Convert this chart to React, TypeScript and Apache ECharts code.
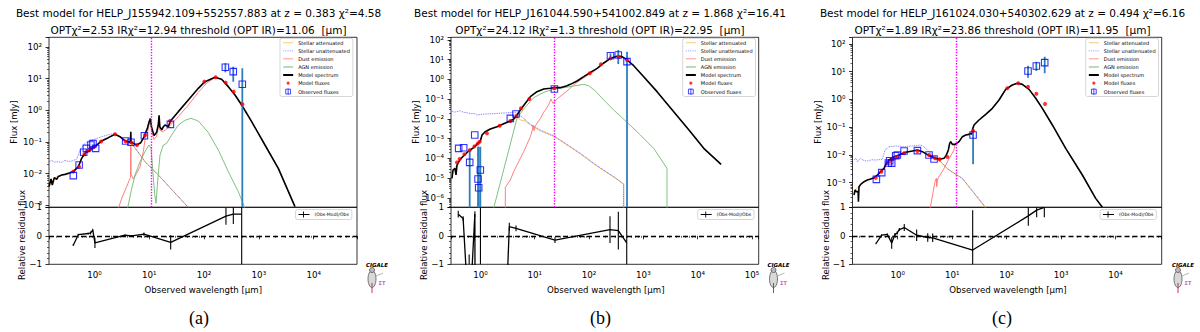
import React, { useEffect, useRef } from 'react';
import * as echarts from 'echarts';

type P = [number, number][];
type E = [number, number, number][];

// ---------------- Panel (a) ----------------
const A_TITLE = 'Best model for HELP_J155942.109+552557.883 at z = 0.383 χ²=4.58';
const A_SUB = 'OPTχ²=2.53 IRχ²=12.94 threshold (OPT IR)=11.06  [μm]';
const A_THRESHOLD = 11.06;
const A_XRANGE = [0.148, 61800];
const A_YRANGE = [8.67e-4, 202];
const A_MODEL: P = [[0.148,0.0039],[0.161,0.0068],[0.170,0.0044],[0.185,0.0075],[0.204,0.0066],[0.219,0.0082],[0.252,0.0091],[0.290,0.0095],[0.350,0.0105],[0.411,0.0116],[0.508,0.0166],[0.584,0.0305],[0.672,0.0439],[0.829,0.0559],[1.02,0.0712],[1.35,0.108],[1.79,0.137],[2.37,0.175],[2.92,0.147],[3.61,0.108],[4.55,0.098],[4.60,0.21],[4.66,0.098],[5.89,0.0804],[7.0,0.095],[8.15,0.15],[8.6,0.20],[9.3,0.28],[10.0,0.45],[10.5,0.55],[11.0,0.30],[12.2,0.16],[13.0,0.18],[13.7,0.21],[14.6,0.35],[15.1,0.70],[15.6,0.30],[16.9,0.24],[18.0,0.30],[19.4,0.344],[22.2,0.305],[24.6,0.47],[33.9,0.908],[51.6,2.12],[78.5,4.95],[104,8.04],[158,11.0],[209,9.52],[277,5.59],[367,3.05],[486,1.47],[739,0.439],[1292,0.0804],[2264,0.0147],[4560,0.00091]];
const A_ATT: P = [[0.148,0.0039],[0.185,0.0075],[0.219,0.0082],[0.29,0.0095],[0.411,0.0116],[0.508,0.0166],[0.584,0.0305],[0.672,0.0439],[0.829,0.0559],[1.02,0.0712],[1.35,0.108],[1.79,0.137],[2.37,0.175],[2.92,0.147],[3.61,0.108],[4.77,0.0908],[8.36,0.0239],[14.6,0.0091],[51.6,0.00086]];
const A_UNATT: P = [[0.148,0.024],[0.165,0.0262],[0.185,0.0232],[0.219,0.0239],[0.25,0.0225],[0.29,0.0264],[0.34,0.024],[0.384,0.0251],[0.43,0.027],[0.473,0.029],[0.545,0.0559],[0.627,0.0804],[0.773,0.108],[1.02,0.124],[1.35,0.147],[1.92,0.175],[2.44,0.183],[2.92,0.147],[3.61,0.108],[4.77,0.0908],[8.36,0.0239],[14.6,0.0091],[51.6,0.00086]];
const A_DUST: P = [[2.73,0.0008],[3.14,0.00166],[3.87,0.00388],[4.45,0.0071],[4.55,0.0075],[4.60,0.08],[4.66,0.0095],[5.12,0.0068],[5.89,0.0102],[6.78,0.0166],[7.79,0.0495],[8.36,0.12],[8.9,0.17],[9.4,0.22],[10.1,0.40],[10.5,0.47],[11.0,0.22],[12.2,0.12],[13.6,0.15],[14.6,0.28],[15.1,0.60],[15.6,0.24],[17.3,0.21],[19.9,0.24],[23.9,0.328],[33.9,0.631],[51.6,1.47],[78.5,3.70],[111,7.12],[158,10.8],[209,9.52],[277,5.59],[367,3.05],[486,1.47],[739,0.439],[1292,0.0804],[2264,0.0147],[4560,0.00091]];
const A_AGN: P = [[4.03,0.0008],[4.64,0.0027],[5.49,0.0091],[6.78,0.0239],[8.36,0.0495],[9.89,0.0804],[10.8,0.063],[11.5,0.0147],[12.6,0.00212],[13.3,0.00116],[14.2,0.0056],[15.7,0.0388],[18.1,0.0804],[20.8,0.0908],[25.6,0.166],[33.9,0.344],[44.8,0.483],[57.6,0.559],[78.5,0.460],[119,0.202],[182,0.0559],[277,0.0116],[422,0.0027],[558,0.0008]];
const A_MOD_L = [0.411,0.522,0.653,0.731,0.817,0.889,0.995,1.32,2.37,3.71,4.77,5.97,8.36,23.9,101,163,248,347,499];
const A_MOD_F = [0.0116,0.0166,0.0408,0.052,0.0559,0.063,0.0712,0.103,0.175,0.103,0.0953,0.0804,0.166,0.46,8.04,11.0,7.48,3.89,1.55];
const A_OBS_L = [0.411,0.525,0.636,0.711,0.862,0.941,1.05,3.71,4.64,8.15,24.3,245,341,499];
const A_OBS_F = [0.00865,0.0188,0.0472,0.063,0.0804,0.0886,0.063,0.108,0.0976,0.158,0.361,22.8,16.6,6.62];
const A_OBS_ERR: E = [[245,15.8,30.5],[341,8.0,23.9],[499,1e-9,21.2]];
const A_RES_L = [0.41,0.507,0.77,0.85,0.93,1.02,3.6,4.77,8.0,24.6,251,342,486];
const A_RES_V = [-0.33,0.04,0.08,0.1,0.2,-0.25,0.02,0.0,0.06,-0.23,0.69,0.76,0.76];
const A_RES_E = [0.03,0.03,0.03,0.05,0.05,0.18,0.03,0.03,0.06,0.25,0.3,0.35,5];

// ---------------- Panel (b) ----------------
const B_TITLE = 'Best model for HELP_J161044.590+541002.849 at z = 1.868 χ²=16.41';
const B_SUB = 'OPTχ²=24.12 IRχ²=1.3 threshold (OPT IR)=22.95  [μm]';
const B_THRESHOLD = 22.95;
const B_XRANGE = [0.287, 133000];
const B_YRANGE = [3.37e-7, 133.6];
const B_MODEL: P = [[0.299,9.8e-6],[0.313,2.59e-5],[0.340,3.14e-5],[0.355,1.45e-5],[0.370,4.6e-5],[0.415,8.3e-5],[0.491,1.37e-4],[0.607,2.37e-4],[0.750,3.49e-4],[0.889,5.6e-4],[0.995,7.6e-4],[1.07,1.53e-3],[1.23,2.25e-3],[1.52,3.07e-3],[2.02,4.03e-3],[2.68,5.7e-3],[3.55,7.8e-3],[4.10,9.8e-3],[4.71,0.0157],[5.43,0.0281],[6.71,0.061],[8.30,0.133],[11.0,0.238],[14.6,0.324],[19.4,0.351],[23.0,0.379],[29.6,0.379],[39.3,0.478],[45.3,0.558],[60.1,0.824],[79.8,1.36],[106,2.26],[141,3.60],[187,6.70],[248,11.5],[328,14.6],[405,14.0],[500,9.5],[664,4.91],[1014,1.36],[1786,0.238],[3622,0.0231],[7345,2.25e-3],[12940,3.23e-4],[26980,5.0e-5]];
const B_ATT: P = [[0.299,9.8e-6],[0.313,2.59e-5],[0.370,4.6e-5],[0.415,8.3e-5],[0.491,1.37e-4],[0.607,2.37e-4],[0.750,3.49e-4],[0.889,5.6e-4],[0.995,7.6e-4],[1.07,1.53e-3],[1.23,2.25e-3],[1.52,3.07e-3],[2.02,4.03e-3],[2.68,5.7e-3],[3.55,7.8e-3],[4.10,9.8e-3],[4.71,0.0115],[5.43,8.8e-3],[6.71,7.8e-3],[8.30,4.9e-3],[12.7,2.43e-3],[22.3,1.31e-3],[39.3,4.76e-4],[69.2,1.67e-4],[141,3.97e-5],[284,1.15e-5],[434,4.9e-6],[435,1e-8]];
const B_UNATT: P = [[0.299,0.025],[0.33,0.022],[0.370,0.0231],[0.42,0.026],[0.491,0.0214],[0.56,0.021],[0.652,0.0183],[0.75,0.019],[0.864,0.0157],[1.15,0.0176],[1.75,0.0183],[2.68,0.0198],[4.10,0.0214],[4.85,0.0183],[6.25,0.0106],[8.30,5.3e-3],[12.7,2.73e-3],[22.3,1.41e-3],[39.3,5.15e-4],[69.2,1.80e-4],[141,4.3e-5],[284,1.19e-5],[434,5.07e-6],[435,1e-8]];
const B_DUST: P = [[2.87,1e-8],[2.87,3.44e-6],[3.55,8.1e-6],[4.09,2.13e-5],[6.25,2.19e-4],[8.30,1.26e-3],[9.03,2.73e-3],[9.29,4.9e-3],[9.70,2.53e-3],[10.3,4.53e-3],[12.7,0.0106],[14.6,0.0214],[18.0,0.0503],[19.9,0.101],[21.7,0.061],[25.7,0.101],[31.8,0.161],[39.3,0.257],[52.1,0.517],[69.2,0.925],[91.6,1.53],[122,2.44],[187,6.70],[248,11.5],[328,14.6],[405,14.0],[500,9.5],[664,4.91],[1014,1.36],[1786,0.238],[3622,0.0231],[7345,2.25e-3],[12940,3.23e-4],[26980,5.0e-5]];
const B_AGN: P = [[1.75,3.0e-7],[4.71,0.0106],[6.25,0.0316],[9.55,0.118],[14.6,0.220],[22.3,0.312],[34.0,0.379],[52.1,0.460],[79.8,0.558],[98.4,0.478],[131,0.257],[187,0.090],[284,0.0281],[500,6.7e-3],[881,1.53e-3],[1549,3.23e-4],[2727,3.14e-5],[2728,1e-8]];
const B_MOD_L = [0.370,0.415,0.506,0.634,0.773,0.889,0.968,1.32,2.26,3.55,4.59,5.58,7.95,23.0,103,166,248,351,500];
const B_MOD_F = [6.3e-5,9.3e-5,1.61e-4,2.56e-4,4.07e-4,5.6e-4,7.0e-4,1.85e-3,4.53e-3,7.8e-3,0.0140,0.0341,0.101,0.351,2.01,5.74,11.5,14.0,9.5];
const B_OBS_L = [0.397,0.491,0.634,0.785,0.903,0.929,0.995,3.55,4.52,23.0,248,345,500];
const B_OBS_F = [3.23e-4,3.49e-4,6.3e-5,1.53e-3,9.1e-6,3.3e-6,2.59e-5,0.0106,0.0176,0.324,15.7,17.0,7.83];
const B_OBS_ERR: E = [[0.634,1e-9,2.66e-4],[0.903,1e-9,3.9e-4],[0.929,1e-9,3.9e-4],[0.995,1e-9,3.9e-4],[248,12,20],[345,5.97,30.5],[500,1e-9,25]];
const B_RES_L = [0.39,0.48,0.62,0.79,0.90,0.93,1.0,3.4,4.52,23.6,243,346,494];
const B_RES_V = [0.76,0.61,-3.06,0.76,-60,-200,-26,0.32,0.26,-0.15,0.22,0.18,-0.25];
const B_RES_E = [0.12,0.08,2.4,0.1,50,150,30,0.14,0.1,0.1,0.47,0.66,5];

// ---------------- Panel (c) ----------------
const C_TITLE = 'Best model for HELP_J161024.030+540302.629 at z = 0.494 χ²=6.16';
const C_SUB = 'OPTχ²=1.89 IRχ²=23.86 threshold (OPT IR)=11.95  [μm]';
const C_THRESHOLD = 11.95;
const C_XRANGE = [0.148, 70300];
const C_YRANGE = [1.28e-4, 172.6];
const C_MODEL: P = [[0.158,3.55e-4],[0.165,5.38e-4],[0.174,4.69e-4],[0.182,4.69e-4],[0.188,4.69e-4],[0.190,2.04e-4],[0.195,7.1e-4],[0.209,8.6e-4],[0.241,1.07e-3],[0.277,1.23e-3],[0.319,1.34e-3],[0.368,1.50e-3],[0.423,1.87e-3],[0.488,2.47e-3],[0.561,3.25e-3],[0.619,4.92e-3],[0.693,6.5e-3],[0.857,8.57e-3],[1.06,9.84e-3],[1.40,0.0123],[1.86,0.0137],[2.30,0.0149],[2.84,0.0130],[3.76,9.3e-3],[4.99,7.46e-3],[6.15,7.06e-3],[7.10,7.46e-3],[7.83,9.84e-3],[8.51,0.0149],[9.0,0.0259],[9.40,0.0298],[10.1,0.0238],[11.3,0.0238],[13.4,0.0298],[15.4,0.0451],[17.7,0.0518],[20.4,0.0547],[21.9,0.0594],[23.3,0.055],[23.8,0.085],[25.2,0.119],[31.1,0.180],[41.3,0.288],[54.7,0.473],[72.5,0.946],[96.1,2.29],[127,3.29],[157,3.78],[194,3.47],[258,2.29],[342,1.09],[453,0.473],[691,0.119],[1214,0.0171],[2455,1.87e-3],[4315,2.69e-4],[5723,1.28e-4]];
const C_ATT: P = [[0.158,3.55e-4],[0.165,5.38e-4],[0.195,7.1e-4],[0.209,8.6e-4],[0.241,1.07e-3],[0.277,1.23e-3],[0.319,1.34e-3],[0.368,1.50e-3],[0.423,1.87e-3],[0.488,2.47e-3],[0.561,3.25e-3],[0.619,4.92e-3],[0.693,6.5e-3],[0.857,8.57e-3],[1.06,9.84e-3],[1.40,0.0123],[1.86,0.0137],[2.30,0.0149],[2.84,0.0130],[3.76,9.3e-3],[4.99,7.2e-3],[6.15,5.4e-3],[8.51,2.9e-3],[15.4,1.38e-3],[41.3,1.2e-4]];
const C_UNATT: P = [[0.158,6.5e-3],[0.17,7.5e-3],[0.182,5.6e-3],[0.209,7.46e-3],[0.24,6.2e-3],[0.277,5.98e-3],[0.33,6.6e-3],[0.394,6.5e-3],[0.523,6.87e-3],[0.585,0.0149],[0.693,0.0196],[0.919,0.0208],[1.31,0.0196],[2.00,0.0213],[2.65,0.0226],[3.18,0.0181],[4.04,0.0113],[4.99,7.88e-3],[6.15,5.65e-3],[8.51,2.99e-3],[15.4,1.42e-3],[41.3,1.28e-4]];
const C_DUST: P = [[3.92,1.1e-4],[4.84,1.07e-3],[5.13,1.42e-3],[5.20,7.1e-4],[5.42,1.34e-3],[7.10,3.25e-3],[8.51,6.5e-3],[10.8,0.0149],[11.3,0.0238],[13.4,0.0298],[15.4,0.0451],[17.7,0.0518],[20.4,0.0547],[21.9,0.0594],[23.3,0.055],[23.8,0.085],[25.2,0.119],[31.1,0.180],[41.3,0.288],[54.7,0.473],[72.5,0.946],[96.1,2.29],[127,3.29],[157,3.78],[194,3.47],[258,2.29],[342,1.09],[453,0.473],[691,0.119],[1214,0.0171],[2455,1.87e-3],[4315,2.69e-4],[5723,1.28e-4]];
const C_AGN: P = [];
const C_MOD_L = [0.394,0.501,0.646,0.713,0.798,0.893,1.0,1.31,2.30,3.76,4.84,5.90,8.17,24.2,103,164,247,351,507];
const C_MOD_F = [1.50e-3,2.47e-3,5.2e-3,5.98e-3,7.06e-3,7.88e-3,8.57e-3,0.0113,0.0137,9.84e-3,7.46e-3,6.87e-3,8.33e-3,0.0742,2.49,3.78,2.86,1.60,0.679];
const C_OBS_L = [0.406,0.509,0.674,0.713,0.776,0.919,0.986,1.31,2.30,3.76,4.65,24.2,247,351,500];
const C_OBS_F = [1.30e-3,2.27e-3,5.06e-3,6.14e-3,5.0e-3,9.3e-3,9.84e-3,0.0137,0.0141,9.84e-3,7.06e-3,0.0518,10.5,15.9,21.0];
const C_OBS_ERR: E = [[24.2,4.53e-3,0.078],[247,6.04,16.4],[351,10.5,22.8],[500,8.66,34.5]];
const C_RES_L = [0.40,0.508,0.646,0.776,0.893,0.98,1.07,1.32,2.23,3.56,4.39,23.8,250,356,492];
const C_RES_V = [-0.27,0.02,0.05,-0.25,0.05,0.1,0.22,0.29,0.02,-0.06,-0.07,-0.5,0.7,0.9,1.0];
const C_RES_E = [0.03,0.03,0.03,0.2,0.05,0.05,0.05,0.12,0.2,0.15,0.15,1.4,0.35,0.25,0.35];

const RES_NAME = '(Obs-Mod)/Obs';
const CAPTIONS = ['(a)', '(b)', '(c)'];

const PANELS = [
  { title: A_TITLE, sub: A_SUB, th: A_THRESHOLD, xr: A_XRANGE, yr: A_YRANGE, model: A_MODEL, att: A_ATT, unatt: A_UNATT, dust: A_DUST, agn: A_AGN, ml: A_MOD_L, mf: A_MOD_F, ol: A_OBS_L, of: A_OBS_F, oe: A_OBS_ERR, rl: A_RES_L, rv: A_RES_V, re: A_RES_E },
  { title: B_TITLE, sub: B_SUB, th: B_THRESHOLD, xr: B_XRANGE, yr: B_YRANGE, model: B_MODEL, att: B_ATT, unatt: B_UNATT, dust: B_DUST, agn: B_AGN, ml: B_MOD_L, mf: B_MOD_F, ol: B_OBS_L, of: B_OBS_F, oe: B_OBS_ERR, rl: B_RES_L, rv: B_RES_V, re: B_RES_E },
  { title: C_TITLE, sub: C_SUB, th: C_THRESHOLD, xr: C_XRANGE, yr: C_YRANGE, model: C_MODEL, att: C_ATT, unatt: C_UNATT, dust: C_DUST, agn: C_AGN, ml: C_MOD_L, mf: C_MOD_F, ol: C_OBS_L, of: C_OBS_F, oe: C_OBS_ERR, rl: C_RES_L, rv: C_RES_V, re: C_RES_E },
];

// styles
const COL = { att: '#fbb040', unatt: '#3030ff', dust: '#ff7070', agn: '#70bb70', model: '#000000', mflux: '#ff0000', obs: '#0000ff', err: '#2f7fbf', th: '#ff00ff' };
const BOX = 'M0,0L0.01,0M10,6L9.99,6';
const ICON_LINE = 'path://' + BOX + 'M0,2.55H10V3.45H0Z';
const ICON_THICK = 'path://' + BOX + 'M0,2.1H10V3.9H0Z';
const ICON_DOT = 'path://' + BOX + 'M0,2.55h1v0.9h-1zM2.2,2.55h1v0.9h-1zM4.4,2.55h1v0.9h-1zM6.6,2.55h1v0.9h-1zM8.8,2.55h1v0.9h-1z';
const ICON_CIRCLE = 'path://' + BOX + 'M3.4,3a1.6,1.6 0 1,0 3.2,0a1.6,1.6 0 1,0 -3.2,0Z';
const ICON_SQUARE = 'path://' + BOX + 'M2.6,0.6H7.4V5.4H2.6ZM5,0V6';
const ICON_RES = 'path://M0,0L0.01,0M11,6L10.99,6M0,2.5H11V3.5H0ZM4.6,0h0.9v6h-0.9z';
const LEGEND_DATA = [
  { name: 'Stellar attenuated', icon: ICON_LINE, itemStyle: { color: COL.att, borderWidth: 0, opacity: 0.7 } },
  { name: 'Stellar unattenuated', icon: ICON_DOT, itemStyle: { color: COL.unatt, borderWidth: 0, opacity: 0.7 } },
  { name: 'Dust emission', icon: ICON_LINE, itemStyle: { color: COL.dust, borderWidth: 0 } },
  { name: 'AGN emission', icon: ICON_LINE, itemStyle: { color: COL.agn, borderWidth: 0 } },
  { name: 'Model spectrum', icon: ICON_THICK, itemStyle: { color: COL.model, borderWidth: 0 } },
  { name: 'Model fluxes', icon: ICON_CIRCLE, itemStyle: { color: COL.mflux, borderWidth: 0 } },
  { name: 'Observed fluxes', icon: ICON_SQUARE, itemStyle: { color: 'rgba(255,255,255,0)', borderColor: COL.obs, borderWidth: 0.9 } },
];

// layout (pixels)
const LAYOUT = [
  { left: 49, width: 308, titleX: 198.5, xlabX: 203.3, fluxX: 13.5, resX: 21.7, legL: 280, resLegL: 295.5, capX: 199, logoX: 377 },
  { left: 451, width: 307.7, titleX: 600, xlabX: 605.8, fluxX: 415.5, resX: 424, legL: 682.7, resLegL: 697.7, capX: 600.5, logoX: 778.5 },
  { left: 852.5, width: 309.2, titleX: 1002.5, xlabX: 1008, fluxX: 817.5, resX: 825.7, legL: 1085.7, resLegL: 1100, capX: 1002, logoX: 1183 },
];
const MAIN_TOP = 37.3, MAIN_H = 170, RES_TOP = 207.3, RES_H = 57;
const FONT = 'DejaVu Sans';

const SUP: Record<string, string> = { '-': '⁻', '0': '⁰', '1': '¹', '2': '²', '3': '³', '4': '⁴', '5': '⁵', '6': '⁶', '7': '⁷', '8': '⁸', '9': '⁹' };
function logLabel(v: number): string {
  const e = Math.log10(v);
  const r = Math.round(e);
  if (Math.abs(e - r) > 1e-6) return '';
  return '10' + String(r).split('').map((c) => SUP[c]).join('');
}

function errSeries(name: string, axis: number, data: number[][], color: string, width: number, z: number) {
  return {
    name, type: 'custom', xAxisIndex: axis, yAxisIndex: axis, data, clip: true, z, silent: true,
    encode: { x: 0, y: [1, 2] },
    renderItem: (_p: any, api: any) => {
      const a = api.coord([api.value(0), api.value(1)]);
      const b = api.coord([api.value(0), api.value(2)]);
      return { type: 'line', shape: { x1: a[0], y1: a[1], x2: b[0], y2: b[1] }, style: { stroke: color, lineWidth: width } };
    },
  };
}

function buildOption() {
  const grid: any[] = [], xAxis: any[] = [], yAxis: any[] = [], series: any[] = [], legend: any[] = [], graphic: any[] = [];
  const tick = { show: true, length: 3.5, lineStyle: { color: '#000', width: 0.8 } };
  const minor = (n: number) => ({ show: true, splitNumber: n, length: 2, lineStyle: { color: '#000', width: 0.6 } });
  const lbl = { fontSize: 8.7, fontFamily: FONT, color: '#000' };
  PANELS.forEach((p, i) => {
    const L = LAYOUT[i];
    const m = 2 * i, r = 2 * i + 1;
    grid.push({ left: L.left, top: MAIN_TOP, width: L.width, height: MAIN_H, show: true, borderColor: '#000', borderWidth: 0.8, backgroundColor: 'rgba(0,0,0,0)' });
    grid.push({ left: L.left, top: RES_TOP, width: L.width, height: RES_H, show: true, borderColor: '#000', borderWidth: 0.8, backgroundColor: 'rgba(0,0,0,0)' });
    xAxis.push({ type: 'log', gridIndex: m, min: p.xr[0], max: p.xr[1], axisLine: { show: false }, axisTick: { show: false }, axisLabel: { show: false }, splitLine: { show: false } });
    xAxis.push({ type: 'log', gridIndex: r, min: p.xr[0], max: p.xr[1], axisLine: { show: false }, axisTick: tick, minorTick: minor(9), splitLine: { show: false },
      axisLabel: { ...lbl, formatter: logLabel, margin: 6 } });
    yAxis.push({ type: 'log', gridIndex: m, min: p.yr[0], max: p.yr[1], axisLine: { show: false }, axisTick: tick, minorTick: minor(9), splitLine: { show: false },
      axisLabel: { ...lbl, formatter: logLabel, margin: 7 } });
    yAxis.push({ type: 'value', gridIndex: r, min: -1, max: 1, interval: 1, axisLine: { show: false }, axisTick: tick, minorTick: minor(5), splitLine: { show: false },
      axisLabel: { ...lbl, formatter: (v: number) => (v < 0 ? '−' + (-v) : String(v)), margin: 7 } });

    const base = { xAxisIndex: m, yAxisIndex: m, type: 'line', symbol: 'none', showSymbol: false, silent: true, clip: true };
    series.push({ ...base, name: 'Stellar attenuated', data: p.att, z: 2, lineStyle: { color: COL.att, width: 0.9, opacity: 0.85 }, itemStyle: { color: COL.att } });
    series.push({ ...base, name: 'Stellar unattenuated', data: p.unatt, z: 2, lineStyle: { color: COL.unatt, width: 0.9, type: 'dotted', opacity: 0.75 }, itemStyle: { color: COL.unatt } });
    series.push({ ...base, name: 'Dust emission', data: p.dust, z: 2, lineStyle: { color: COL.dust, width: 0.9 }, itemStyle: { color: COL.dust } });
    series.push({ ...base, name: 'AGN emission', data: p.agn, z: 2, lineStyle: { color: COL.agn, width: 0.9 }, itemStyle: { color: COL.agn } });
    series.push({ ...base, name: 'Model spectrum', data: p.model, z: 3, lineStyle: { color: COL.model, width: 1.6 }, itemStyle: { color: COL.model },
      markLine: { silent: true, symbol: ['none', 'none'], label: { show: false }, lineStyle: { color: COL.th, type: 'dotted', width: 1.4 }, data: [{ xAxis: p.th }] } });
    series.push(errSeries('obsErr' + i, m, p.oe, COL.err, 1.8, 4));
    series.push({ name: 'Model fluxes', type: 'scatter', xAxisIndex: m, yAxisIndex: m, silent: true, z: 5, symbol: 'circle', symbolSize: 4,
      data: p.ml.map((x, k) => [x, p.mf[k]]), itemStyle: { color: COL.mflux } });
    series.push({ name: 'Observed fluxes', type: 'scatter', xAxisIndex: m, yAxisIndex: m, silent: true, z: 6, symbol: 'rect', symbolSize: 6.5,
      data: p.ol.map((x, k) => [x, p.of[k]]), itemStyle: { color: 'rgba(255,255,255,0)', borderColor: COL.obs, borderWidth: 1.1 } });

    series.push({ name: RES_NAME, type: 'line', xAxisIndex: r, yAxisIndex: r, symbol: 'none', showSymbol: false, silent: true, clip: true, z: 3,
      data: p.rl.map((x, k) => [x, p.rv[k]]), lineStyle: { color: '#000', width: 1.3 }, itemStyle: { color: '#000' },
      markLine: { silent: true, symbol: ['none', 'none'], label: { show: false }, lineStyle: { color: '#000', type: [5, 3], width: 1.4 }, data: [{ yAxis: 0 }] } });
    series.push(errSeries('resErr' + i, r, p.rl.map((x, k) => [x, p.rv[k] - p.re[k], p.rv[k] + p.re[k]]), '#000', 1.1, 4));

    legend.push({ orient: 'vertical', left: L.legL, top: 38.3, itemWidth: 10, itemHeight: 6, itemGap: 2.05, padding: [1.5, 3, 1.5, 2.7],
      backgroundColor: 'rgba(255,255,255,0.85)', borderColor: '#cccccc', borderWidth: 0.8, borderRadius: 2, selectedMode: false, symbolKeepAspect: true,
      textStyle: { fontSize: 5, lineHeight: 6, fontFamily: FONT, color: '#000' }, data: LEGEND_DATA });
    legend.push({ orient: 'vertical', left: L.resLegL, top: 209.5, itemWidth: 11, itemHeight: 6, padding: [2, 3, 2, 3],
      backgroundColor: 'rgba(255,255,255,0.85)', borderColor: '#cccccc', borderWidth: 0.8, borderRadius: 2, selectedMode: false, symbolKeepAspect: true,
      textStyle: { fontSize: 4.6, lineHeight: 6, fontFamily: FONT, color: '#000' },
      data: [{ name: RES_NAME, icon: ICON_RES, itemStyle: { color: '#000', borderWidth: 0 } }] });

    const txt = (text: string, x: number, y: number, size: number, extra: any = {}) => ({
      type: 'text', x, y, z: 100, silent: true, rotation: extra.rotation || 0,
      style: { text, fontSize: size, fontFamily: FONT, fill: '#000', align: 'center', verticalAlign: 'middle', textAlign: 'center', textVerticalAlign: 'middle', ...(extra.style || {}) },
    });
    graphic.push(txt(p.title, L.titleX, 13.4, 10.5));
    graphic.push(txt(p.sub, L.titleX, 30.2, 10.5));
    graphic.push(txt('Flux [mJy]', L.fluxX, 122, 8.6, { rotation: Math.PI / 2 }));
    graphic.push(txt('Relative residual flux', L.resX, 235, 8.6, { rotation: Math.PI / 2 }));
    graphic.push(txt('Observed wavelength [μm]', L.xlabX, 290, 8.6));
    graphic.push(txt(CAPTIONS[i], L.capX, 318, 18, { style: { fontFamily: 'Liberation Serif' } }));
    // CIGALE logo
    graphic.push(txt('CIGALE', L.logoX, 264.5, 5.5, { style: { fontWeight: 'bold', fontStyle: 'italic' } }));
    graphic.push({ type: 'ellipse', z: 100, silent: true, shape: { cx: L.logoX - 5, cy: 279, rx: 4, ry: 8.5 }, style: { fill: '#d8d8d8', stroke: '#555', lineWidth: 0.8 } });
    graphic.push({ type: 'circle', z: 100, silent: true, shape: { cx: L.logoX - 5, cy: 270, r: 2.5 }, style: { fill: '#bbb', stroke: '#444', lineWidth: 0.7 } });
    graphic.push({ type: 'line', z: 100, silent: true, shape: { x1: L.logoX - 5, y1: 283, x2: L.logoX - 5, y2: 293 }, style: { stroke: '#c03060', lineWidth: 1 } });
    graphic.push({ type: 'line', z: 100, silent: true, shape: { x1: L.logoX - 1, y1: 276, x2: L.logoX + 6, y2: 273 }, style: { stroke: '#888', lineWidth: 0.6 } });
    graphic.push(txt('ΣΤ', L.logoX + 5, 283, 5, { style: { fill: '#c060d0', fontWeight: 'bold' } }));
  });
  return { animation: false, backgroundColor: '#fff', grid, xAxis, yAxis, series, legend, graphic };
}

export default function App() {
  const ref = useRef<HTMLDivElement>(null);
  useEffect(() => {
    if (!ref.current) return;
    const chart = echarts.init(ref.current, undefined, { renderer: 'svg' });
    chart.setOption(buildOption() as any);
    return () => chart.dispose();
  }, []);
  return <div ref={ref} style={{ position: 'absolute', left: 0, top: 0, width: 1200, height: 332, background: '#fff' }} />;
}
